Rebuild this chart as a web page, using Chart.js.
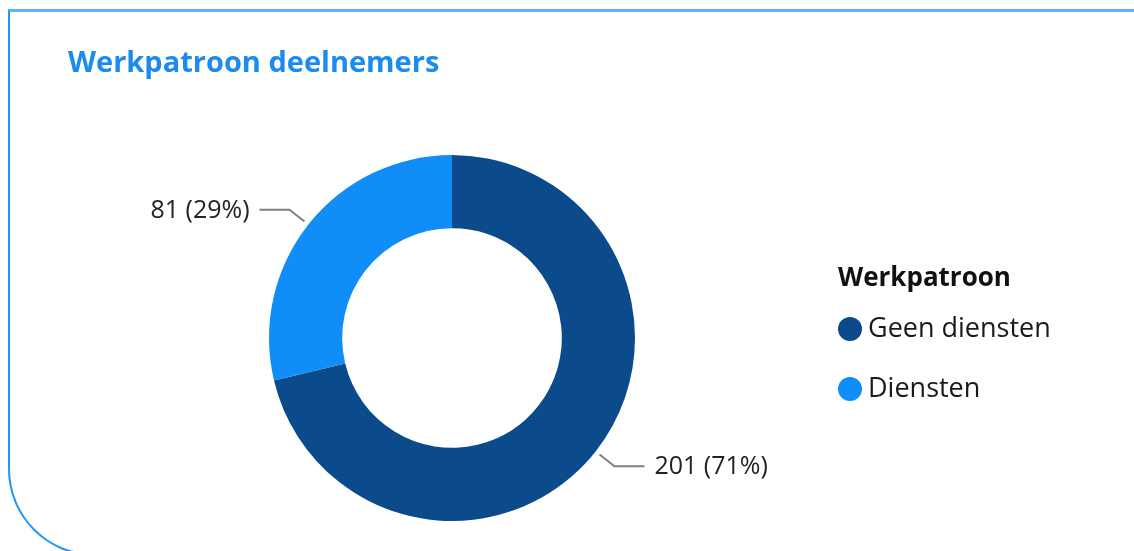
<!DOCTYPE html>
<html>
<head>
<meta charset="utf-8">
<script src="https://cdn.jsdelivr.net/npm/chart.js@4/dist/chart.umd.min.js"></script>
<style>
  html, body { margin: 0; padding: 0; background: #fff; overflow: hidden; }
  #card {
    position: absolute; left: 8px; top: 9px; width: 1200px; height: 542px;
    border-top: 3px solid #5ab4fb; border-left: 2px solid #2196f8;
    border-bottom: 2px solid #2196f8;
    border-bottom-left-radius: 87px;
  }
  #wrap { position: absolute; left: 0; top: 0; width: 1134px; height: 551px; }
</style>
</head>
<body>
<div id="card"></div>
<div id="wrap"><canvas id="werkChart"></canvas></div>
<script>
var labels = ['Geen diensten', 'Diensten']
var counts = [201, 81]
var colors = ['#0b4a8b', '#118df7']
var legendTitle = 'Werkpatroon'
var chartTitle = 'Werkpatroon deelnemers'
var fontFamily = '"Open Sans", "Noto Sans", sans-serif'

var total = counts.reduce(function (a, b) { return a + b }, 0)

// value labels with leader lines outside the ring
var sliceLabels = {
    id: 'sliceLabels',
    afterDatasetsDraw: function (chart) {
        var ctx = chart.ctx
        var meta = chart.getDatasetMeta(0)
        ctx.save()
        ctx.font = '25px ' + fontFamily
        ctx.textBaseline = 'middle'
        meta.data.forEach(function (arc, i) {
            var p = arc.getProps(['x', 'y', 'startAngle', 'endAngle', 'outerRadius'])
            var mid = (p.startAngle + p.endAngle) / 2
            var cos = Math.cos(mid), sin = Math.sin(mid)
            var x0 = p.x + cos * (p.outerRadius + 5)
            var y0 = p.y + sin * (p.outerRadius + 5)
            var x1 = p.x + cos * (p.outerRadius + 24)
            var y1 = p.y + sin * (p.outerRadius + 24)
            var dir = cos >= 0 ? 1 : -1
            var x2 = x1 + dir * 30
            ctx.strokeStyle = '#808080'
            ctx.lineWidth = 2
            ctx.beginPath()
            ctx.moveTo(x0, y0)
            ctx.lineTo(x1, y1)
            ctx.lineTo(x2, y1)
            ctx.stroke()
            var pct = Math.round(counts[i] / total * 100)
            ctx.fillStyle = '#222'
            ctx.textAlign = dir > 0 ? 'left' : 'right'
            ctx.fillText(counts[i] + ' (' + pct + '%)', x2 + dir * 10, y1 + 1)
        })
        ctx.restore()
    }
}

// legend on the right, drawn by hand for tighter control of spacing
var sideLegend = {
    id: 'sideLegend',
    afterDraw: function (chart) {
        var ctx = chart.ctx
        var x = chart.chartArea.right + 2
        ctx.save()
        ctx.textBaseline = 'middle'
        ctx.textAlign = 'left'
        ctx.fillStyle = '#111'
        ctx.font = 'bold 26px ' + fontFamily
        ctx.fillText(legendTitle, x, 279)
        ctx.font = '27px ' + fontFamily
        labels.forEach(function (lab, i) {
            var y = 329 + i * 60
            ctx.fillStyle = colors[i]
            ctx.beginPath()
            ctx.arc(x + 12, y, 12, 0, Math.PI * 2)
            ctx.fill()
            ctx.fillStyle = '#1a1a1a'
            ctx.fillText(lab, x + 30, y)
        })
        ctx.restore()
    }
}

new Chart(document.getElementById('werkChart'), {
    type: 'doughnut',
    data: {
        labels: labels,
        datasets: [{
            data: counts,
            backgroundColor: colors,
            borderWidth: 0
        }]
    },
    options: {
        responsive: true,
        maintainAspectRatio: false,
        animation: false,
        cutout: '60%',
        layout: { padding: { left: 68, right: 298, top: 0, bottom: 30 } },
        plugins: {
            legend: { display: false },
            tooltip: { enabled: false },
            title: {
                display: true,
                text: chartTitle,
                align: 'start',
                color: '#1a8cf0',
                font: { family: fontFamily, size: 29, weight: 'bold' },
                padding: { top: 46, bottom: 74.2 }
            }
        }
    },
    plugins: [sliceLabels, sideLegend]
})
</script>
</body>
</html>
